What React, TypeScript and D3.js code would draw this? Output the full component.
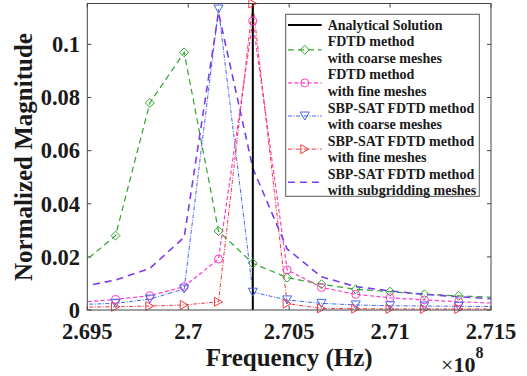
import React from "react";
import * as d3 from "d3";

// Frequency samples (×10^8 Hz); first and last lie just outside the visible range
const freqs = [2.6947, 2.6964, 2.6981, 2.6998, 2.7015, 2.7032, 2.7049, 2.7066, 2.7083, 2.71, 2.7117, 2.7134, 2.7151];
const fdtdCoarse = [0.0172, 0.028, 0.078, 0.097, 0.0297, 0.0176, 0.0122, 0.0097, 0.0078, 0.0069, 0.0059, 0.0053, 0.0048];
const fdtdFine = [0.0029, 0.004, 0.0054, 0.0088, 0.0192, 0.1088, 0.0151, 0.0085, 0.0059, 0.0046, 0.0038, 0.0031, 0.0026];
const sbpCoarse = [0.0021, 0.0025, 0.0041, 0.0079, 0.1133, 0.0067, 0.0038, 0.0025, 0.0019, 0.0016, 0.0015, 0.0014, 0.0013];
const sbpFine = [0.0011, 0.0012, 0.0015, 0.0019, 0.0031, 0.1154, 0.0024, 0.0006, 0.0005, 0.0004, 0.0004, 0.0004, 0.0004];
const sbpSub = [0.0087, 0.0113, 0.0157, 0.0274, 0.112, 0.0534, 0.023, 0.0125, 0.0088, 0.0072, 0.0059, 0.005, 0.0042];
const analyticalFreq = 2.7032;

const xTicks = [2.695, 2.7, 2.705, 2.71, 2.715];
const xTickLabels = ["2.695", "2.7", "2.705", "2.71", "2.715"];
const yTicks = [0, 0.02, 0.04, 0.06, 0.08, 0.1];
const yTickLabels = ["0", "0.02", "0.04", "0.06", "0.08", "0.1"];

const legendLabels = [
  ["Analytical Solution"],
  ["FDTD method", "with coarse meshes"],
  ["FDTD method", "with fine meshes"],
  ["SBP-SAT FDTD method", "with coarse meshes"],
  ["SBP-SAT FDTD method", "with fine meshes"],
  ["SBP-SAT FDTD method", "with subgridding meshes"],
];

const W = 527, H = 376;
const L = 87.3, R = 491, T = 3.5, B = 310;
const FONT = "'Liberation Serif', 'Times New Roman', serif";

type Marker = "diamond" | "circle" | "down" | "right" | "none";

function MarkerShape({ kind, x, y, color }: { kind: Marker; x: number; y: number; color: string }) {
  const s = { fill: "none", stroke: color, strokeWidth: 1 };
  if (kind === "diamond") return <polygon points={`${x},${y - 4.5} ${x + 4.5},${y} ${x},${y + 4.5} ${x - 4.5},${y}`} {...s} />;
  if (kind === "circle") return <circle cx={x} cy={y} r={4} {...s} />;
  if (kind === "down") return <polygon points={`${x - 4.5},${y - 4} ${x + 4.5},${y - 4} ${x},${y + 4}`} {...s} />;
  if (kind === "right") return <polygon points={`${x - 4},${y - 4.5} ${x + 4},${y} ${x - 4},${y + 4.5}`} {...s} />;
  return null;
}

export default function App() {
  const x = d3.scaleLinear().domain([2.695, 2.715]).range([L, R]);
  const y = d3.scaleLinear().domain([0, 0.1154]).range([B, T]);

  const series: { vals: number[]; color: string; dash: string; width: number; marker: Marker }[] = [
    { vals: fdtdCoarse, color: "#2fa52f", dash: "6,4", width: 1.2, marker: "diamond" },
    { vals: fdtdFine, color: "#ff3cc8", dash: "4,2.5", width: 1.2, marker: "circle" },
    { vals: sbpCoarse, color: "#4466ee", dash: "4,1.5,1,1.5", width: 1, marker: "down" },
    { vals: sbpFine, color: "#f03c3c", dash: "4,1.5,1,1.5", width: 1, marker: "right" },
    { vals: sbpSub, color: "#7a3cf0", dash: "7,5", width: 1.6, marker: "none" },
  ];

  const line = d3
    .line<[number, number]>()
    .x((d) => x(d[0]))
    .y((d) => y(d[1]));

  const legendCenters = d3.range(11).map((i) => 25 + i * 16.55);
  let row = 0;
  const legendItems = legendLabels.map((lines, i) => {
    const centers = lines.map(() => legendCenters[row++]);
    return { lines, centers, sampleY: d3.mean(centers) as number, i };
  });

  const axisColor = "#444";
  const textColor = "#1a1a1a";

  return (
    <svg width={W} height={H} style={{ position: "absolute", left: 0, top: 0, background: "#fff" }} fontFamily={FONT}>
      <defs>
        <clipPath id="plotClip">
          <rect x={L} y={T} width={R - L} height={B - T} />
        </clipPath>
      </defs>
      <rect x={0} y={0} width={W} height={H} fill="#fff" />

      {/* ticks */}
      {xTicks.map((t) => (
        <g key={"xt" + t}>
          <line x1={x(t)} x2={x(t)} y1={B} y2={B - 4} stroke={axisColor} />
          <line x1={x(t)} x2={x(t)} y1={T} y2={T + 4} stroke={axisColor} />
        </g>
      ))}
      {yTicks.map((t) => (
        <g key={"yt" + t}>
          <line x1={L} x2={L + 4} y1={y(t)} y2={y(t)} stroke={axisColor} />
          <line x1={R} x2={R - 4} y1={y(t)} y2={y(t)} stroke={axisColor} />
        </g>
      ))}

      {/* data lines */}
      <g clipPath="url(#plotClip)">
        {series.map((s, i) => (
          <path
            key={"s" + i}
            d={line(freqs.map((f, k) => [f, s.vals[k]] as [number, number])) || ""}
            fill="none"
            stroke={s.color}
            strokeWidth={s.width}
            strokeDasharray={s.dash}
          />
        ))}
        <line x1={x(analyticalFreq)} x2={x(analyticalFreq)} y1={y(0)} y2={T} stroke="#000" strokeWidth={2} />
      </g>

      {/* markers */}
      {series.map((s, i) =>
        freqs.map((f, k) =>
          f >= 2.695 && f <= 2.715 ? (
            <MarkerShape key={`m${i}-${k}`} kind={s.marker} x={x(f)} y={y(s.vals[k])} color={s.color} />
          ) : null
        )
      )}

      {/* axes box */}
      <rect x={L} y={T} width={R - L} height={B - T} fill="none" stroke={axisColor} strokeWidth={1} />

      {/* tick labels */}
      {xTicks.map((t, i) => (
        <text key={"xl" + t} x={x(t)} y={339} textAnchor="middle" fontSize={22.5} fontWeight="bold" fill={textColor}>
          {xTickLabels[i]}
        </text>
      ))}
      {yTicks.map((t, i) => (
        <text key={"yl" + t} x={80} y={y(t) + 7.8} textAnchor="end" fontSize={22.5} fontWeight="bold" fill={textColor}>
          {yTickLabels[i]}
        </text>
      ))}

      {/* axis labels */}
      <text x={(L + R) / 2} y={366} textAnchor="middle" fontSize={25} fontWeight="bold" fill={textColor}>
        Frequency (Hz)
      </text>
      <text transform={`translate(32,157) rotate(-90)`} textAnchor="middle" fontSize={25} fontWeight="bold" fill={textColor}>
        Normalized Magnitude
      </text>
      <text x={441} y={372} fontSize={22} fill={textColor}>
        <tspan>×</tspan>
        <tspan fontWeight="bold">10</tspan>
        <tspan fontWeight="bold" fontSize={16} dy={-14}>8</tspan>
      </text>

      {/* legend */}
      <rect x={285.7} y={14.3} width={193.6} height={182} fill="#fff" stroke="#555" strokeWidth={1} />
      {legendItems.map((it) => {
        const s = it.i === 0 ? null : series[it.i - 1];
        return (
          <g key={"lg" + it.i}>
            <line
              x1={288}
              x2={321.7}
              y1={it.sampleY}
              y2={it.sampleY}
              stroke={s ? s.color : "#000"}
              strokeWidth={s ? s.width : 2}
              strokeDasharray={s ? s.dash : undefined}
            />
            {s && <MarkerShape kind={s.marker} x={304.8} y={it.sampleY} color={s.color} />}
            {it.lines.map((ln, j) => (
              <text key={j} x={327.7} y={it.centers[j] + 4.8} fontSize={14} fontWeight="bold" fill={textColor}>
                {ln}
              </text>
            ))}
          </g>
        );
      })}
    </svg>
  );
}
